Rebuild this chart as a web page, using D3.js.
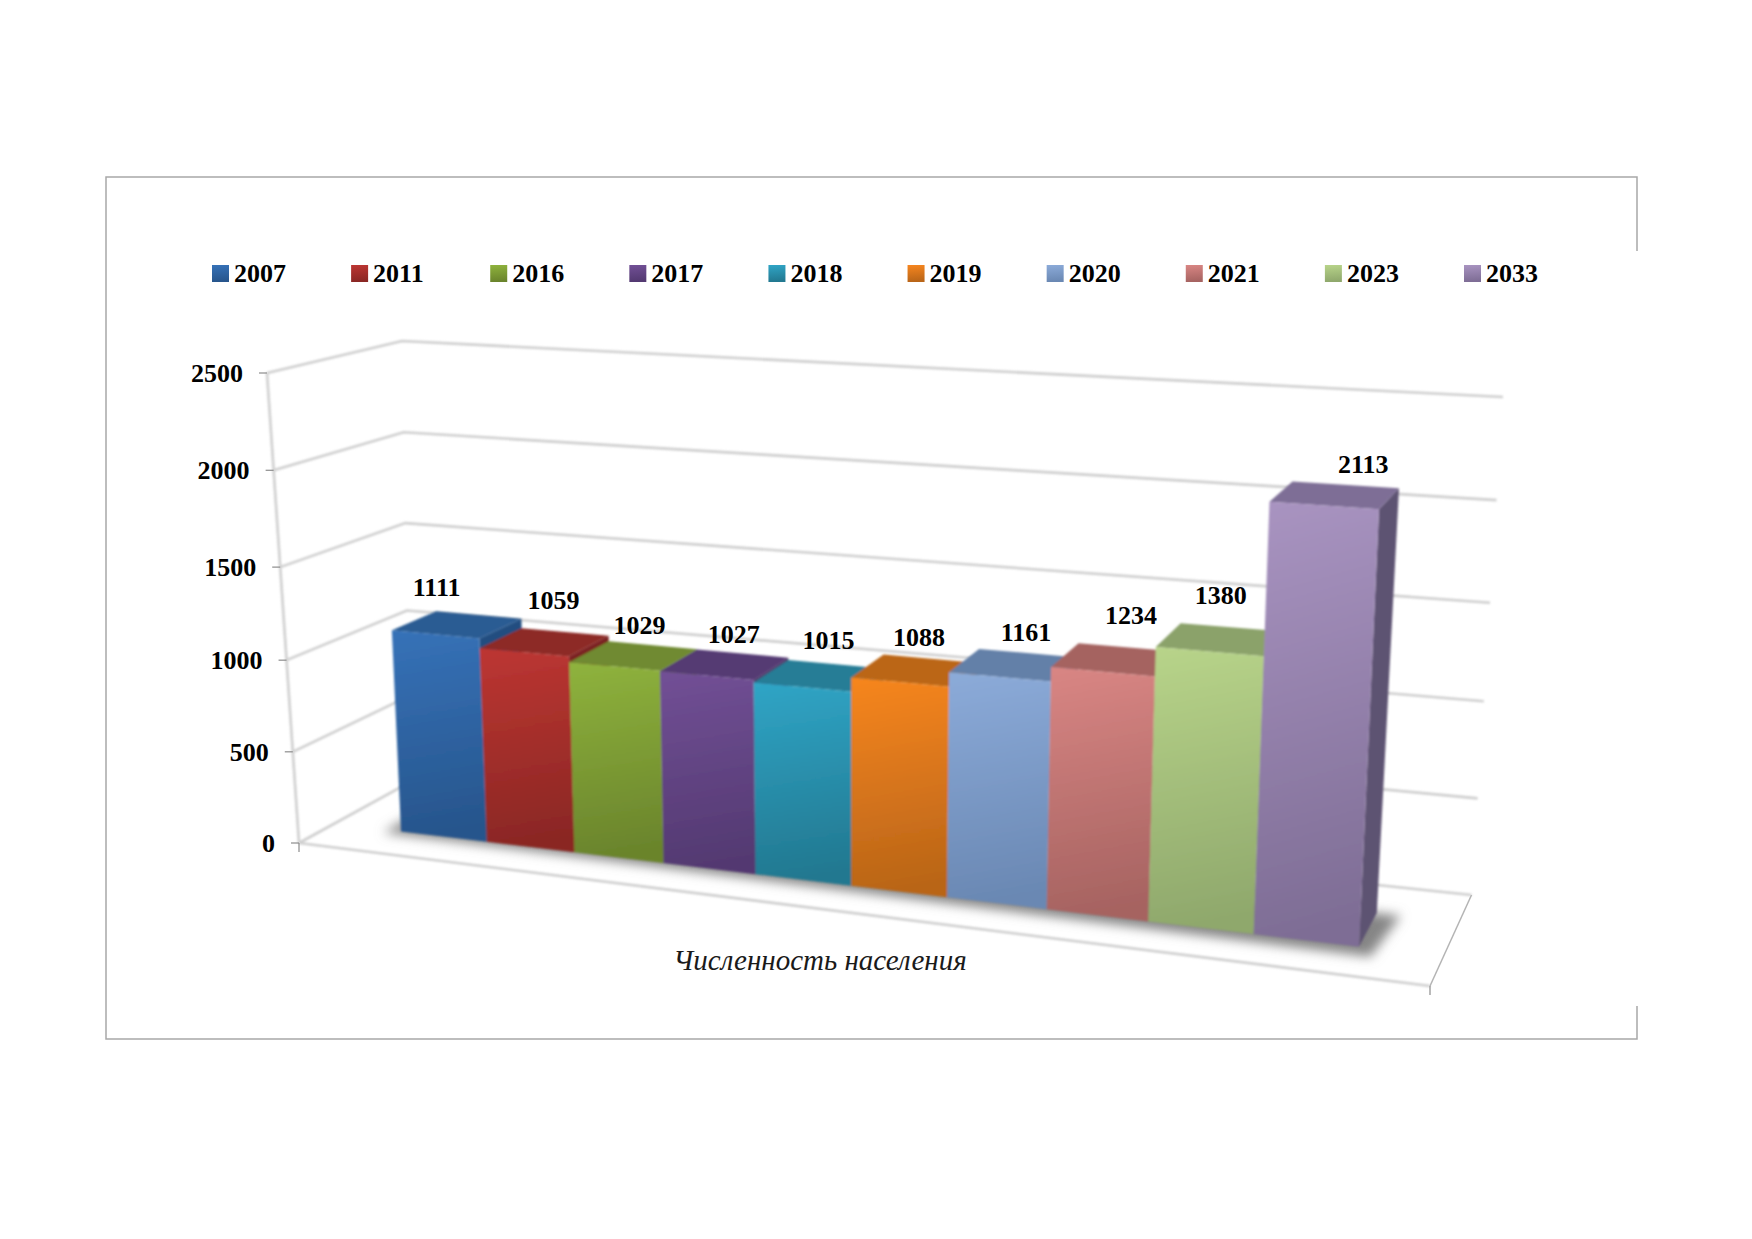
<!DOCTYPE html>
<html>
<head>
<meta charset="utf-8">
<script src="https://cdnjs.cloudflare.com/ajax/libs/d3/7.8.5/d3.min.js"></script>
<style>
  html, body { margin: 0; padding: 0; background: #fff; }
  svg { display: block; }
  text { font-family: "Liberation Serif", "Times New Roman", serif; fill: #000; }
</style>
</head>
<body>
<div id="chart"></div>
<script>

// values
const years = ["2007", "2011", "2016", "2017", "2018", "2019", "2020", "2021", "2023", "2033"];
const population = [1111, 1059, 1029, 1027, 1015, 1088, 1161, 1234, 1380, 2113];
const valueTicks = [0, 500, 1000, 1500, 2000, 2500];
const axisTitle = "Численность населения";

// colours: front top, front bottom, top face, side face
const frontTop = ["#3672b8", "#bd3632", "#8fb33d", "#725096", "#30a5c6", "#f7861f", "#8cabd9", "#d98684", "#b8d48a", "#a994c1"];
const frontBottom = ["#27558c", "#8a2724", "#6a842c", "#533971", "#227890", "#b96518", "#6a88b3", "#a66361", "#8fa86c", "#7e6d95"];
const topFace = ["#2a5b93", "#8d2a26", "#6f8a30", "#553a73", "#257d96", "#bb6617", "#6380a8", "#a56361", "#8ba26a", "#7e6e96"];
const sideFace = ["#234e80", "#7a2421", "#5f7729", "#4a3265", "#1f6b82", "#a35914", "#566f93", "#8f5553", "#788c59", "#5d5272"];

// labels sit where the original chart put them, relative to the bar's front top
const labelNudge = [[1, -38], [29, -43], [25, -32], [27, -33], [26, -38], [19, -36], [26, -36], [28, -48], [11, -48], [39, -33]];

const width = 1752, height = 1239;

const svg = d3.select("#chart").append("svg")
  .attr("width", width)
  .attr("height", height);

const defs = svg.append("defs");

defs.append("filter").attr("id", "soft")
  .attr("x", "-5%").attr("y", "-5%").attr("width", "110%").attr("height", "110%")
  .append("feGaussianBlur").attr("stdDeviation", 0.9);

defs.append("filter").attr("id", "shadow")
  .attr("x", "-10%").attr("y", "-20%").attr("width", "120%").attr("height", "140%")
  .append("feGaussianBlur").attr("stdDeviation", 6);

years.forEach(function (y, i) {
  const g = defs.append("linearGradient").attr("id", "bar" + i)
    .attr("x1", 0).attr("y1", 0).attr("x2", 0.08).attr("y2", 1);
  g.append("stop").attr("offset", "0%").attr("stop-color", frontTop[i]);
  g.append("stop").attr("offset", "100%").attr("stop-color", frontBottom[i]);
});

//--------------------------------------
// FRAME
//--------------------------------------

const frame = svg.append("g")
  .attr("fill", "none")
  .attr("stroke", "#a8a8a8")
  .attr("stroke-width", 1.5);

frame.append("path").attr("d", "M1637,251 V177 H106 V1039 H1637 V1006");

//--------------------------------------
// PROJECTION: the plot box is a skewed cube, u along the floor, v up, w into the back
//--------------------------------------

const floorFrontL = [299, 843], floorFrontR = [1430, 986];
const floorBackL = [410, 782], floorBackR = [1471.5, 895];
const topFrontL = [267, 373], topFrontR = [1456, 447];
const topBackL = [402, 341], topBackR = [1503, 397];

function mix(a, b, t) {
  return [a[0] + (b[0] - a[0]) * t, a[1] + (b[1] - a[1]) * t];
}

function project(u, v, w) {
  const floor = mix(mix(floorFrontL, floorFrontR, u), mix(floorBackL, floorBackR, u), w);
  const roof = mix(mix(topFrontL, topFrontR, u), mix(topBackL, topBackR, u), w);
  return mix(floor, roof, v);
}

const yScale = d3.scaleLinear()
  .domain(valueTicks)
  .range([0, 0.194, 0.389, 0.587, 0.793, 1]);

// bars get wider towards the viewer's right, slot edges as fractions of the row
const uLeft = 0.06, uRight = 0.924;
const slotEdges = [0, 0.0895, 0.181, 0.274, 0.37, 0.47, 0.57, 0.674, 0.78, 0.89, 1];

const xScale = d3.scaleLinear()
  .domain(d3.range(years.length + 1))
  .range(slotEdges.map(function (f) { return uLeft + (uRight - uLeft) * f; }));

const depthFront = 0.32, depthBack = 0.7;

const poly = d3.line();

//--------------------------------------
// WALLS AND FLOOR
//--------------------------------------

const grid = svg.append("g")
  .attr("fill", "none")
  .attr("stroke", "#cfcfcf")
  .attr("stroke-width", 2.6)
  .attr("filter", "url(#soft)");

grid.selectAll(".grid").data(valueTicks).enter().append("path")
  .attr("class", "grid")
  .attr("d", function (t) {
    const v = yScale(t);
    return poly([project(0, v, 0), project(0, v, 1), project(1, v, 1)]);
  });

// value axis
grid.append("path").attr("d", poly([project(0, 0, 0), project(0, 1, 0)]));

// floor front and right edge
grid.append("path").attr("d", poly([project(0, 0, 0), project(1, 0, 0)]));
svg.append("path")
  .attr("d", poly([project(1, 0, 0), project(1, 0, 1)]))
  .attr("fill", "none")
  .attr("stroke", "#b4b4b4")
  .attr("stroke-width", 1.5);

const ticks = svg.append("g").attr("stroke", "#8c8c8c").attr("stroke-width", 1.2);

ticks.selectAll("line").data(valueTicks).enter().append("line")
  .attr("x1", function (t) { return project(0, yScale(t), 0)[0] - 8; })
  .attr("x2", function (t) { return project(0, yScale(t), 0)[0]; })
  .attr("y1", function (t) { return project(0, yScale(t), 0)[1]; })
  .attr("y2", function (t) { return project(0, yScale(t), 0)[1]; });

[0, 1].forEach(function (u) {
  const p = project(u, 0, 0);
  ticks.append("line").attr("x1", p[0]).attr("x2", p[0]).attr("y1", p[1]).attr("y2", p[1] + 9);
});

svg.append("g").selectAll("text").data(valueTicks).enter().append("text")
  .attr("x", function (t) { return project(0, yScale(t), 0)[0] - 24; })
  .attr("y", function (t) { return project(0, yScale(t), 0)[1] + 9; })
  .attr("text-anchor", "end")
  .attr("font-size", 26)
  .attr("font-weight", "bold")
  .text(function (t) { return t; });

//--------------------------------------
// BARS
//--------------------------------------

svg.append("path")
  .attr("d", poly([
    project(uLeft - 0.012, 0, depthFront - 0.04),
    project(uRight + 0.014, 0, depthFront - 0.09),
    project(uRight + 0.022, 0, depthBack),
    project(uLeft - 0.012, 0, depthBack)
  ]) + "Z")
  .attr("fill", "#858585")
  .attr("filter", "url(#shadow)");

const bars = svg.append("g").attr("filter", "url(#soft)");

population.forEach(function (value, i) {
  const u0 = xScale(i), u1 = xScale(i + 1), v = yScale(value);
  const bar = bars.append("g").attr("class", "bar");

  bar.append("path")
    .attr("fill", sideFace[i])
    .attr("d", poly([
      project(u1, 0, depthFront), project(u1, 0, depthBack),
      project(u1, v, depthBack), project(u1, v, depthFront)
    ]) + "Z");

  bar.append("path")
    .attr("fill", topFace[i])
    .attr("d", poly([
      project(u0, v, depthFront), project(u1, v, depthFront),
      project(u1, v, depthBack), project(u0, v, depthBack)
    ]) + "Z");

  bar.append("path")
    .attr("fill", "url(#bar" + i + ")")
    .attr("d", poly([
      project(u0, 0, depthFront), project(u1, 0, depthFront),
      project(u1, v, depthFront), project(u0, v, depthFront)
    ]) + "Z");
});

svg.append("g").selectAll("text").data(population).enter().append("text")
  .attr("class", "value")
  .attr("x", function (d, i) { return project((xScale(i) + xScale(i + 1)) / 2, yScale(d), depthFront)[0] + labelNudge[i][0]; })
  .attr("y", function (d, i) { return project((xScale(i) + xScale(i + 1)) / 2, yScale(d), depthFront)[1] + labelNudge[i][1]; })
  .attr("text-anchor", "middle")
  .attr("font-size", 26)
  .attr("font-weight", "bold")
  .text(function (d) { return d; });

svg.append("text")
  .attr("x", 820)
  .attr("y", 970)
  .attr("text-anchor", "middle")
  .attr("font-size", 29)
  .attr("font-style", "italic")
  .style("fill", "#1a1a1a")
  .text(axisTitle);

//--------------------------------------
// LEGEND
//--------------------------------------

const legendX = d3.scalePoint().domain(years).range([212, 1464]);

const legend = svg.append("g").selectAll("g").data(years).enter().append("g")
  .attr("transform", function (y) { return "translate(" + legendX(y) + ",265)"; });

legend.append("rect")
  .attr("width", 17).attr("height", 17)
  .attr("fill", function (y, i) { return "url(#bar" + i + ")"; });

legend.append("text")
  .attr("x", 22).attr("y", 17)
  .attr("font-size", 26)
  .attr("font-weight", "bold")
  .text(function (y) { return y; });

</script>
</body>
</html>
